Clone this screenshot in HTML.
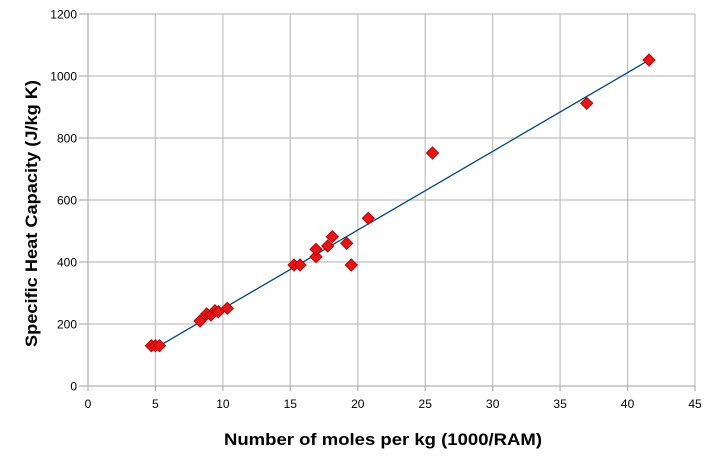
<!DOCTYPE html>
<html><head><meta charset="utf-8"><style>
html,body{margin:0;padding:0;background:#fff;}
svg{display:block;}
text{font-family:"Liberation Sans",sans-serif;}
</style></head><body>
<svg width="718" height="458" viewBox="0 0 718 458" xmlns="http://www.w3.org/2000/svg">
<defs>
<path id="d" d="M0,-6 L6,0 L0,6 L-6,0 Z"/>
</defs>
<rect width="718" height="458" fill="#fff"/>
<g stroke="#c0c0c0" stroke-width="1.2" fill="none">
<line x1="88" y1="14" x2="695" y2="14"/>
<line x1="88" y1="76" x2="695" y2="76"/>
<line x1="88" y1="138" x2="695" y2="138"/>
<line x1="88" y1="200" x2="695" y2="200"/>
<line x1="88" y1="262" x2="695" y2="262"/>
<line x1="88" y1="324" x2="695" y2="324"/>
<line x1="155.4" y1="14" x2="155.4" y2="386"/>
<line x1="222.9" y1="14" x2="222.9" y2="386"/>
<line x1="290.3" y1="14" x2="290.3" y2="386"/>
<line x1="357.8" y1="14" x2="357.8" y2="386"/>
<line x1="425.2" y1="14" x2="425.2" y2="386"/>
<line x1="492.7" y1="14" x2="492.7" y2="386"/>
<line x1="560.1" y1="14" x2="560.1" y2="386"/>
<line x1="627.6" y1="14" x2="627.6" y2="386"/>
<line x1="695" y1="14" x2="695" y2="386"/>
</g>
<g stroke="#b3b3b3" stroke-width="1.3" fill="none">
<line x1="88" y1="14" x2="88" y2="391"/>
<line x1="79" y1="386" x2="695" y2="386"/>
<line x1="79" y1="14" x2="88" y2="14"/>
<line x1="79" y1="76" x2="88" y2="76"/>
<line x1="79" y1="138" x2="88" y2="138"/>
<line x1="79" y1="200" x2="88" y2="200"/>
<line x1="79" y1="262" x2="88" y2="262"/>
<line x1="79" y1="324" x2="88" y2="324"/>
<line x1="155.4" y1="386" x2="155.4" y2="391"/>
<line x1="222.9" y1="386" x2="222.9" y2="391"/>
<line x1="290.3" y1="386" x2="290.3" y2="391"/>
<line x1="357.8" y1="386" x2="357.8" y2="391"/>
<line x1="425.2" y1="386" x2="425.2" y2="391"/>
<line x1="492.7" y1="386" x2="492.7" y2="391"/>
<line x1="560.1" y1="386" x2="560.1" y2="391"/>
<line x1="627.6" y1="386" x2="627.6" y2="391"/>
<line x1="695" y1="386" x2="695" y2="391"/>
</g>
<g font-size="12" fill="#000" text-anchor="end">
<text x="77" y="18.5">1200</text>
<text x="77" y="80.5">1000</text>
<text x="77" y="142.5">800</text>
<text x="77" y="204.5">600</text>
<text x="77" y="266.5">400</text>
<text x="77" y="328.5">200</text>
<text x="77" y="390.5">0</text>
</g>
<g font-size="12" fill="#000" text-anchor="middle">
<text x="88" y="408">0</text>
<text x="155.4" y="408">5</text>
<text x="222.9" y="408">10</text>
<text x="290.3" y="408">15</text>
<text x="357.8" y="408">20</text>
<text x="425.2" y="408">25</text>
<text x="492.7" y="408">30</text>
<text x="560.1" y="408">35</text>
<text x="627.6" y="408">40</text>
<text x="695" y="408">45</text>
</g>
<text x="224" y="445" font-size="17" font-weight="bold" fill="#000" textLength="318" lengthAdjust="spacingAndGlyphs">Number of moles per kg (1000/RAM)</text>
<text transform="translate(37,347) rotate(-90)" x="0" y="0" font-size="17" font-weight="bold" fill="#000" textLength="267" lengthAdjust="spacingAndGlyphs">Specific Heat Capacity (J/kg K)</text>
<line x1="153.3" y1="349.4" x2="649.2" y2="60" stroke="#004586" stroke-width="1.3"/>
<g fill="#e01818" stroke="#c00000" stroke-width="1">
<use href="#d" transform="translate(151.4,345.7)"/>
<use href="#d" transform="translate(155.4,345.7)"/>
<use href="#d" transform="translate(159.5,345.7)"/>
<use href="#d" transform="translate(200,321)"/>
<use href="#d" transform="translate(206.7,314)"/>
<use href="#d" transform="translate(211,315)"/>
<use href="#d" transform="translate(215,310.7)"/>
<use href="#d" transform="translate(218.3,311.7)"/>
<use href="#d" transform="translate(227.3,308.3)"/>
<use href="#d" transform="translate(294,265)"/>
<use href="#d" transform="translate(300,265)"/>
<use href="#d" transform="translate(316,256.7)"/>
<use href="#d" transform="translate(316,249.3)"/>
<use href="#d" transform="translate(327.7,246)"/>
<use href="#d" transform="translate(332.3,236.7)"/>
<use href="#d" transform="translate(346.7,243.3)"/>
<use href="#d" transform="translate(351.3,265)"/>
<use href="#d" transform="translate(368.3,218.3)"/>
<use href="#d" transform="translate(432.5,153)"/>
<use href="#d" transform="translate(586.7,103.3)"/>
<use href="#d" transform="translate(649,60)"/>
</g>
</svg>
</body></html>
